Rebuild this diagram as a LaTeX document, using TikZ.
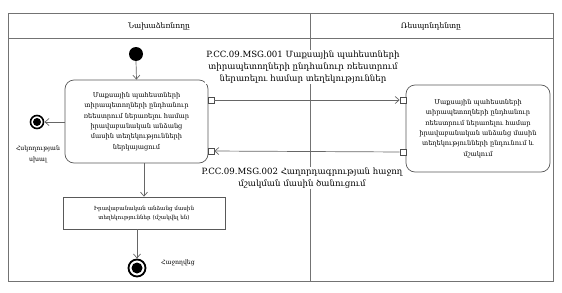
\documentclass[tikz,border=0pt]{standalone}
\usepackage{fontspec}
\setmainfont{DejaVu Serif}
\usetikzlibrary{arrows.meta,positioning}

\begin{document}
\begin{tikzpicture}[x=1pt,y=-1pt,
    lane/.style={draw=black!55,line width=0.9pt},
    act/.style={draw=black!65,line width=0.7pt,rounded corners=9pt,align=center,
        font=\fontsize{6.6}{10.3}\selectfont,inner sep=1pt},
    port/.style={draw=black!70,fill=white,line width=0.6pt,minimum size=6pt,inner sep=0pt},
    flow/.style={draw=black!60,line width=0.7pt,-{Straight Barb[length=4pt,width=7pt]}},
    msg/.style={fill=white,align=center,inner sep=1pt,font=\fontsize{8.6}{12}\selectfont},
    small/.style={align=center,font=\fontsize{6.2}{11}\selectfont}]
    \useasboundingbox (0,0) rectangle (562,292);

    % swimlanes
    \draw[lane] (8,13) rectangle (553,281);
    \draw[lane] (8,38) -- (553,38);
    \draw[lane] (310,13) -- (310,281);
    \node[font=\fontsize{7.6}{9}\selectfont] (initiator) at (159,26) {Նախաձեռնողը};
    \node[font=\fontsize{7.6}{9}\selectfont] (responder) at (431,26) {Ռեսպոնդենտը};

    % nodes
    \fill (136,54) circle (7);
    \coordinate (start) at (136,61);
    \node[act,minimum width=143pt,minimum height=83pt] (submit) at (136.5,121.5)
        {Մաքսային պահեստների\\տիրապետողների ընդհանուր\\ռեեստրում ներառելու համար\\իրավաբանական անձանց\\մասին տեղեկությունների\\ներկայացում};
    \node[act,minimum width=144pt,minimum height=87pt] (process) at (478,128.5)
        {Մաքսային պահեստների\\տիրապետողների ընդհանուր\\ռեեստրում ներառելու համար\\իրավաբանական անձանց մասին\\տեղեկությունների ընդունում և\\մշակում};
    \node[draw=black!65,line width=0.7pt,minimum width=162pt,minimum height=32pt,align=center,
        font=\fontsize{5.6}{9}\selectfont] (result) at (144,213)
        {Իրավաբանական անձանց մասին\\տեղեկություններ (մշակվել են)};

    % final states
    \draw[line width=1.6pt] (37,122) circle (6.5);
    \fill (37,122) circle (4);
    \coordinate (errend) at (44.5,122);
    \node[small] (errlabel) at (38,154) {Հսկողության\\սխալ};
    \draw[line width=1.8pt] (137,268) circle (8.5);
    \fill (137,268) circle (5.5);
    \coordinate (okend) at (137,258.5);
    \node[small] (oklabel) at (178,263) {Հաջողվեց};

    % ports
    \node[port] (out1) at (211,100) {};
    \node[port] (in2) at (211,151) {};
    \node[port] (in1) at (403,100) {};
    \node[port] (out2) at (403,152) {};

    % connectors
    \draw[flow] (start) -- (submit.north);
    \draw[flow] (submit.west |- errend) -- (errend);
    \draw[flow] (submit.south -| result.north) -- (result.north);
    \draw[flow] (result.south -| okend) -- (okend);
    \draw[flow] (out1) -- (in1);
    \draw[flow] (out2) -- (in2);

    % message labels
    \node[msg] (msg1) at (303,67)
        {P.CC.09.MSG.001 Մաքսային պահեստների\\տիրապետողների ընդհանուր ռեեստրում\\ներառելու համար տեղեկություններ};
    \node[msg] (msg2) at (302,178)
        {P.CC.09.MSG.002 Հաղորդագրության հաջող\\մշակման մասին ծանուցում};
\end{tikzpicture}
\end{document}
